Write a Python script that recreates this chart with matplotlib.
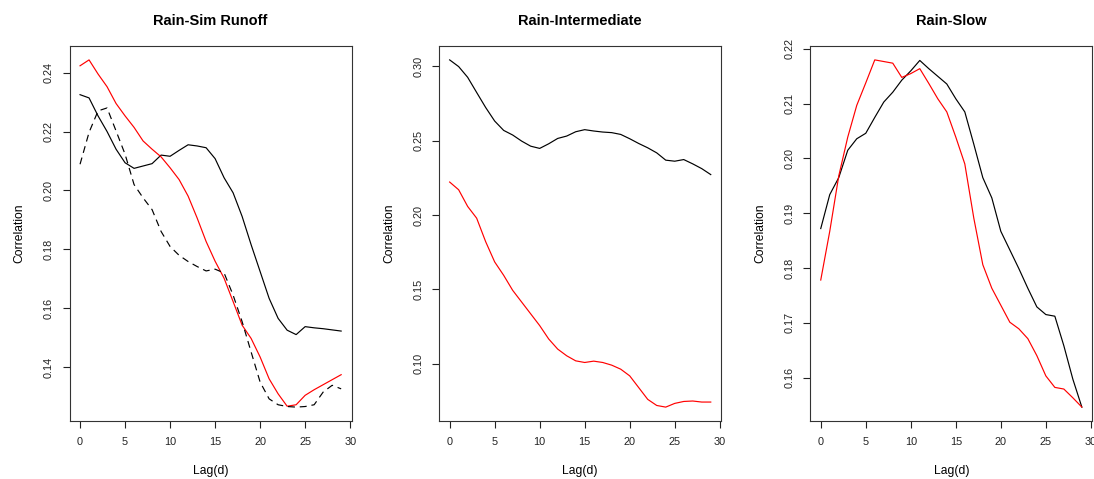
import numpy as np
import matplotlib
matplotlib.use("Agg")
import matplotlib.pyplot as plt

plt.rcParams['font.family'] = ['Liberation Sans', 'DejaVu Sans']
plt.rcParams['lines.scale_dashes'] = False

lag = list(range(30))

# Rain-Sim Runoff
sim_black = [0.2325, 0.2314, 0.2253, 0.2200, 0.2140, 0.2094, 0.2075, 0.2083, 0.2091, 0.2120,
             0.2116, 0.2136, 0.2155, 0.2151, 0.2145, 0.2108, 0.2043, 0.1992, 0.1912, 0.1816,
             0.1725, 0.1634, 0.1566, 0.1526, 0.1511, 0.1538, 0.1534, 0.1531, 0.1527, 0.1523]
sim_red = [0.2423, 0.2443, 0.2395, 0.2352, 0.2295, 0.2253, 0.2214, 0.2168, 0.2140, 0.2114,
           0.2077, 0.2037, 0.1981, 0.1907, 0.1827, 0.1760, 0.1702, 0.1623, 0.1543, 0.1498,
           0.1435, 0.1361, 0.1310, 0.1268, 0.1273, 0.1305, 0.1324, 0.1341, 0.1358, 0.1375]
sim_dash = [0.2089, 0.2197, 0.2270, 0.2280, 0.2202, 0.2123, 0.2020, 0.1975, 0.1935, 0.1861,
            0.1810, 0.1780, 0.1759, 0.1742, 0.1727, 0.1733, 0.1720, 0.1645, 0.1555, 0.1452,
            0.1350, 0.1293, 0.1273, 0.1267, 0.1265, 0.1267, 0.1273, 0.1316, 0.1339, 0.1327]

# Rain-Intermediate
int_black = [0.3043, 0.2998, 0.2926, 0.2824, 0.2723, 0.2632, 0.2569, 0.2538, 0.2497, 0.2463,
             0.2448, 0.2479, 0.2515, 0.2531, 0.2560, 0.2574, 0.2565, 0.2558, 0.2554, 0.2542,
             0.2513, 0.2481, 0.2452, 0.2418, 0.2369, 0.2362, 0.2373, 0.2344, 0.2312, 0.2272]
int_red = [0.2222, 0.2170, 0.2058, 0.1979, 0.1821, 0.1685, 0.1595, 0.1494, 0.1415, 0.1336,
           0.1257, 0.1167, 0.1099, 0.1054, 0.1020, 0.1009, 0.1018, 0.1009, 0.0991, 0.0964,
           0.0919, 0.0840, 0.0761, 0.0720, 0.0709, 0.0734, 0.0747, 0.0750, 0.0743, 0.0743]

# Rain-Slow
slow_black = [0.1872, 0.1934, 0.1965, 0.2015, 0.2036, 0.2046, 0.2075, 0.2103, 0.2121, 0.2143,
              0.2160, 0.2179, 0.2164, 0.2150, 0.2136, 0.2109, 0.2085, 0.2026, 0.1965, 0.1928,
              0.1867, 0.1833, 0.1799, 0.1763, 0.1729, 0.1715, 0.1712, 0.1658, 0.1597, 0.1546]
slow_red = [0.1778, 0.1867, 0.1968, 0.2039, 0.2097, 0.2138, 0.2180, 0.2177, 0.2174, 0.2148,
            0.2155, 0.2164, 0.2137, 0.2109, 0.2085, 0.2039, 0.1990, 0.1891, 0.1806, 0.1763,
            0.1732, 0.1701, 0.1689, 0.1671, 0.1640, 0.1603, 0.1582, 0.1579, 0.1563, 0.1546]

titles = ["Rain-Sim Runoff", "Rain-Intermediate", "Rain-Slow"]
yticks = [[0.14, 0.16, 0.18, 0.20, 0.22, 0.24],
          [0.10, 0.15, 0.20, 0.25, 0.30],
          [0.16, 0.17, 0.18, 0.19, 0.20, 0.21, 0.22]]
xticks = [0, 5, 10, 15, 20, 25, 30]

W, H = 1094, 479
fig = plt.figure(figsize=(W / 100, H / 100), dpi=100)

lefts = [69.6, 439.2, 810.3]
box_w = 282.0
top, bottom = 46, 421

series = [
    [(sim_black, 'black', '-'), (sim_red, 'red', '-'), (sim_dash, 'black', (0, (5, 3.5)))],
    [(int_black, 'black', '-'), (int_red, 'red', '-')],
    [(slow_black, 'black', '-'), (slow_red, 'red', '-')],
]

for i in range(3):
    ax = fig.add_axes([lefts[i] / W, (H - bottom) / H, box_w / W, (bottom - top) / H])
    for vals, col, ls in series[i]:
        ax.plot(lag, vals, color=col, linestyle=ls, linewidth=0.85)

    # R-style 4% padding
    allv = np.concatenate([np.array(v) for v, _, _ in series[i]])
    lo, hi = allv.min(), allv.max()
    pad = 0.04 * (hi - lo)
    ax.set_ylim(lo - pad, hi + pad)
    ax.set_xlim(-0.04 * 29, 29 * 1.04)

    ax.set_xticks(xticks)
    ax.set_yticks(yticks[i])
    ax.set_yticklabels(["%.2f" % t for t in yticks[i]], rotation=90, va='center')
    ax.tick_params(direction='out', length=5, width=0.8, labelsize=7.8, pad=6.5, colors='#222222')
    for s in ax.spines.values():
        s.set_linewidth(0.8)
        s.set_color('#333333')

    ax.set_title(titles[i], fontsize=10.5, fontweight='bold', pad=15)
    ax.set_xlabel("Lag(d)", fontsize=8.7, labelpad=13)
    ax.set_ylabel("Correlation", fontsize=8.7, labelpad=13)

fig.savefig("out.png", dpi=100)
